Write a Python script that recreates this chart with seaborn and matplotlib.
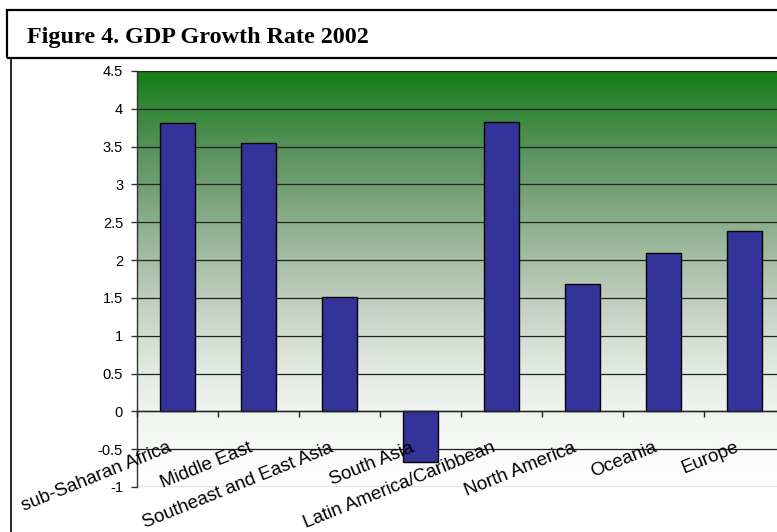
import numpy as np
import pandas as pd
import seaborn as sns
import matplotlib
matplotlib.use("Agg")
import matplotlib.pyplot as plt
from matplotlib.patches import Rectangle
from matplotlib.transforms import ScaledTranslation
from matplotlib.ticker import FormatStrFormatter, MultipleLocator

categories = ["sub-Saharan Africa", "Middle East", "Southeast and East Asia", "South Asia",
              "Latin America/Caribbean", "North America", "Oceania", "Europe"]
growth = [3.81, 3.55, 1.51, -0.67, 3.82, 1.69, 2.09, 2.38]
title = "Figure 4. GDP Growth Rate 2002"

sns.set_theme(style="white")
plt.rcParams["font.family"] = ["Liberation Sans", "DejaVu Sans"]
plt.rcParams["axes.unicode_minus"] = False
plt.rcParams["text.color"] = "black"
plt.rcParams["xtick.color"] = "black"
plt.rcParams["ytick.color"] = "black"
plt.rcParams["xtick.labelcolor"] = "black"
plt.rcParams["ytick.labelcolor"] = "black"

W, H = 777, 532
fig = plt.figure(figsize=(W / 100, H / 100), dpi=100)
fig.patch.set_facecolor("white")

# frames
fig.add_artist(Rectangle((7 / W, 1 - 58 / H), 1.2, 48 / H, transform=fig.transFigure,
                         fill=False, edgecolor="black", linewidth=1.6, zorder=5))
fig.add_artist(Rectangle((11 / W, -0.2), 1.2, 1 - 58 / H + 0.2, transform=fig.transFigure,
                         fill=False, edgecolor="black", linewidth=1.2, zorder=5))
fig.text(27 / W, 1 - 43 / H, title, family=["Liberation Serif", "DejaVu Serif"],
         fontweight="bold", fontsize=17.4, va="baseline", ha="left", color="black")

pos = [137 / W, 45 / H, 648 / W, 416 / H]
ymin, ymax = -1.0, 4.5
xmin, xmax = -0.5, len(categories) - 0.5

# gradient background with gridlines (behind bars)
bg = fig.add_axes(pos, zorder=0)
vals = [4.5, 4.0, 3.5, 3.0, 2.5, 2.0, 1.5, 1.0, 0.5, 0.0, -0.5, -1.0]
cols = np.array([(22, 125, 22), (52, 135, 56), (85, 146, 90), (112, 158, 116),
                 (140, 174, 140), (165, 190, 165), (190, 205, 190), (210, 221, 210),
                 (227, 234, 227), (240, 244, 240), (248, 250, 248), (255, 255, 255)]) / 255.0
yy = np.linspace(ymax, ymin, 400)
grad = np.stack([np.interp(yy, vals[::-1], cols[::-1, c]) for c in range(3)], axis=-1)[:, None, :]
bg.imshow(grad, aspect="auto", extent=[xmin, xmax, ymin, ymax], zorder=0)
bg.set_xlim(xmin, xmax)
bg.set_ylim(ymin, ymax)
bg.yaxis.set_major_locator(MultipleLocator(0.5))
bg.grid(axis="y", color="#222222", linewidth=0.9)
bg.grid(axis="x", visible=False)
bg.set_axisbelow(False)
bg.tick_params(left=False, bottom=False, labelleft=False, labelbottom=False)
for s in bg.spines.values():
    s.set_visible(False)

ax = fig.add_axes(pos, zorder=1)
ax.set_facecolor("none")
df = pd.DataFrame({"region": categories, "growth": growth})
sns.barplot(data=df, x="region", y="growth", color="#333399", saturation=1,
            edgecolor="black", linewidth=1.0, width=0.42, ax=ax, zorder=2)

ax.set_xlim(xmin, xmax)
ax.set_ylim(ymin, ymax)
ax.yaxis.set_major_locator(MultipleLocator(0.5))
ax.yaxis.set_major_formatter(FormatStrFormatter("%g"))
ax.grid(False)
ax.set_axisbelow(False)
ax.set_xlabel("")
ax.set_ylabel("")

for s in ["top", "right"]:
    ax.spines[s].set_visible(False)
ax.spines["left"].set_color("#333333")
ax.spines["left"].set_linewidth(1.0)
ax.spines["bottom"].set_position(("data", 0))
ax.spines["bottom"].set_color("#222222")
ax.spines["bottom"].set_linewidth(1.0)

ax.tick_params(axis="y", direction="out", length=4, width=1, color="#333333",
               pad=6, labelsize=10.5, left=True, labelcolor="black")
ax.set_xticks(np.arange(-0.5, len(categories), 1.0), minor=True)
ax.tick_params(axis="x", which="minor", direction="out", length=4, width=1,
               color="#222222", bottom=True)
ax.tick_params(axis="x", which="major", length=0, pad=20, labelsize=13.5, labelcolor="black")
ax.set_xticks(range(len(categories)))
ax.set_xticklabels(categories, rotation=22, ha="right", va="top", rotation_mode="anchor")
off = ScaledTranslation(-10 / 100, 0, fig.dpi_scale_trans)
for lab in ax.get_xticklabels():
    lab.set_transform(lab.get_transform() + off)

fig.savefig("out.png", dpi=100)
